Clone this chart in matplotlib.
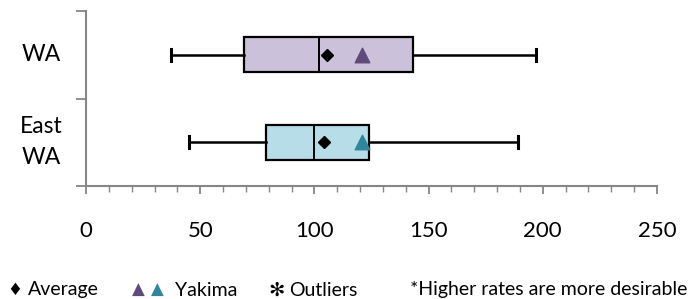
import matplotlib
matplotlib.use("Agg")
import matplotlib.pyplot as plt
from matplotlib.ticker import MultipleLocator, FixedLocator

plt.rcParams['font.family'] = ['Lato', 'DejaVu Sans']

# data
groups = ["East\nWA", "WA"]
whisker_lo = [45, 37]
q1 = [79, 69]
median = [100, 102]
q3 = [124, 143]
whisker_hi = [189, 197]
average = [104, 105.5]
yakima = [121, 121]

box_colors = ["#B7DEE8", "#CCC1DA"]
yakima_colors = ["#31859C", "#604A7B"]
axis_grey = "#868686"

fig = plt.figure(figsize=(6.93, 2.99), dpi=100)
ax = fig.add_axes([86 / 693, 1 - 186 / 299, 571 / 693, 175 / 299])

positions = [0.5, 1.5]
stats = []
for i in range(len(groups)):
    stats.append({"whislo": whisker_lo[i], "q1": q1[i], "med": median[i], "q3": q3[i],
                  "whishi": whisker_hi[i], "mean": average[i], "fliers": []})

bp = ax.bxp(stats, positions=positions, widths=0.4, orientation="horizontal",
            patch_artist=True, showmeans=True, showfliers=False,
            boxprops=dict(linewidth=1.6, edgecolor="black"),
            medianprops=dict(color="black", linewidth=1.4),
            whiskerprops=dict(color="black", linewidth=1.8),
            capprops=dict(color="black", linewidth=2.2),
            capwidths=0.14,
            meanprops=dict(marker="D", markerfacecolor="black", markeredgecolor="black",
                           markersize=6))
for patch, c in zip(bp["boxes"], box_colors):
    patch.set_facecolor(c)

for i in range(len(groups)):
    ax.scatter(yakima[i], positions[i], marker="^", s=110, color=yakima_colors[i], zorder=5)

ax.set_xlim(0, 250)
ax.set_ylim(0, 2)
ax.xaxis.set_major_locator(MultipleLocator(50))
ax.xaxis.set_minor_locator(MultipleLocator(10))
ax.yaxis.set_major_locator(FixedLocator([0, 1, 2]))
ax.set_yticklabels([])

for s in ["top", "right"]:
    ax.spines[s].set_visible(False)
for s in ["left", "bottom"]:
    ax.spines[s].set_color(axis_grey)
    ax.spines[s].set_linewidth(1.5)

ax.tick_params(axis="x", which="major", length=6, width=1.3, color=axis_grey,
               labelsize=16, pad=19)
ax.tick_params(axis="x", which="minor", length=4, width=1.0, color=axis_grey)
ax.tick_params(axis="y", which="major", length=7, width=1.3, color=axis_grey)

for i, g in enumerate(groups):
    ax.text(-0.079, positions[i] / 2, g, transform=ax.transAxes, ha="center", va="center",
            fontsize=16.5, multialignment="center", linespacing=1.6)

# legend line at the bottom
ly = 1 - 290 / 299
fig.text(15 / 693, ly, "\u2666", ha="center", va="center", fontsize=12,
         family=["DejaVu Sans"])
fig.text(28 / 693, ly, "Average", ha="left", va="center", fontsize=14)
fig.text(138 / 693, ly, "\u25B2", ha="center", va="center", fontsize=12,
         color=yakima_colors[1], family=["DejaVu Sans"])
fig.text(157 / 693, ly, "\u25B2", ha="center", va="center", fontsize=12,
         color=yakima_colors[0], family=["DejaVu Sans"])
fig.text(175 / 693, ly, "Yakima", ha="left", va="center", fontsize=14)
fig.text(277 / 693, ly, "\u273B", ha="center", va="center", fontsize=14,
         family=["DejaVu Sans"])
fig.text(289 / 693, ly, "Outliers", ha="left", va="center", fontsize=14)
fig.text(410 / 693, ly, "*Higher rates are more desirable", ha="left", va="center",
         fontsize=14)

fig.savefig("out.png", dpi=100)
